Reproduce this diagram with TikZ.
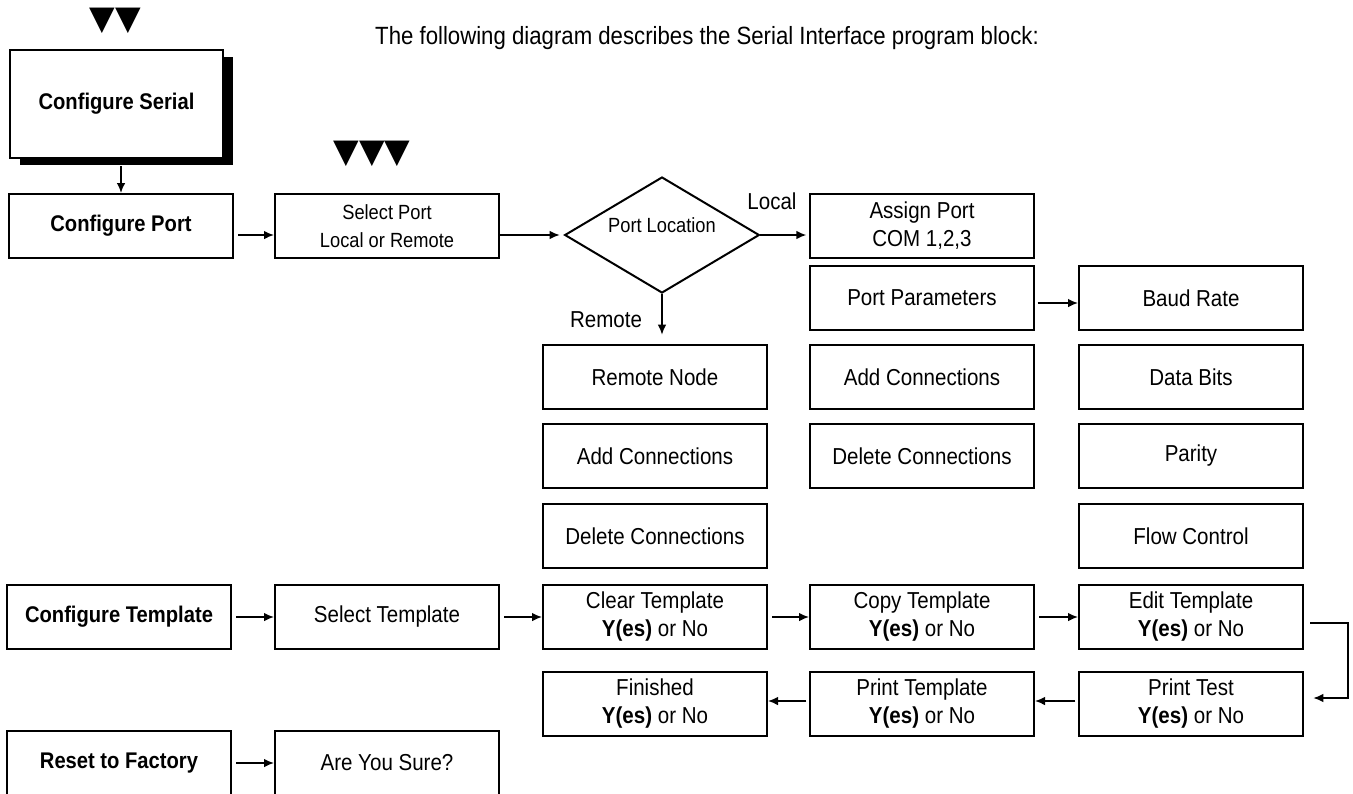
\documentclass[tikz,border=0pt]{standalone}
\usepackage{fontspec}
\setmainfont{Liberation Sans}[FakeStretch=0.89]
\newfontfamily\symfont{DejaVu Sans}
\usetikzlibrary{shapes.geometric,shadows,arrows.meta}

\begin{document}
\begin{tikzpicture}[x=0.75pt, y=-0.75pt,
    box/.style={rectangle, draw, line width=1.5pt, fill=white,
      minimum width=168pt, minimum height=48pt, inner sep=0pt,
      align=center, font=\fontsize{17.3}{21}\selectfont},
    smallbox/.style={box, font=\fontsize{15.4}{21}\selectfont},
    mainbox/.style={box, font=\fontsize{17}{21}\selectfont\bfseries},
    decision/.style={diamond, draw, line width=1.5pt, shape aspect=1.7,
      minimum width=146pt, minimum height=87pt, inner sep=0pt,
      font=\fontsize{15.4}{18}\selectfont},
    lab/.style={font=\fontsize{17.3}{20}\selectfont, inner sep=0pt},
    marks/.style={font=\symfont\fontsize{25}{25}\selectfont, inner sep=0pt},
    arrow/.style={-{Latex[length=7.5pt,width=6.5pt]}, line width=1.2pt}
  ]
  \path[use as bounding box, clip] (0,0) rectangle (1353,793);

  % heading and menu marks
  \node[lab, font=\fontsize{18.7}{20}\selectfont] (title) at (707,38)
  {The following diagram describes the Serial Interface program block:};
  \node[marks] (mk2) at (115.5,20.5) {▼▼};
  \node[marks] (mk3) at (372,154) {▼▼▼};

  % serial port branch
  \node[mainbox, minimum width=160pt, minimum height=81pt,
    drop shadow={shadow xshift=7.5pt, shadow yshift=-5.25pt,
      fill=black, opacity=1}] (cser) at (116.5,104) {Configure Serial};
  \node[mainbox] (cport)  at (121,226) {Configure Port};
  \node[smallbox] (sport) at (387,226) {Select Port\\Local or Remote};
  \node[decision] (ploc)  at (662,235) {\raisebox{15pt}{Port Location}};
  \node[box] (aport)  at (922,226) {Assign Port\\COM 1,2,3};
  \node[box] (pparam) at (922,298) {Port Parameters};
  \node[box] (addm)   at (922,377) {Add Connections};
  \node[box] (delm)   at (922,456) {Delete Connections};
  \node[box] (baud)   at (1191,298) {Baud Rate};
  \node[box] (dbits)  at (1191,377) {Data Bits};
  \node[box] (parity) at (1191,456) {Parity};
  \node[box] (flow)   at (1191,536) {Flow Control};
  \node[box] (rnode)  at (655,377) {Remote Node};
  \node[box] (addr)   at (655,456) {Add Connections};
  \node[box] (delr)   at (655,536) {Delete Connections};
  \node[lab] (local)  at (772,201) {Local};
  \node[lab] (remote) at (606,320) {Remote};

  % template branch
  \node[mainbox] (ctemp) at (119,617) {Configure Template};
  \node[box] (stemp) at (387,617) {Select Template};
  \node[box] (clear) at (655,617) {Clear Template\\\textbf{Y(es)} or No};
  \node[box] (copy)  at (922,617) {Copy Template\\\textbf{Y(es)} or No};
  \node[box] (edit)  at (1191,617) {Edit Template\\\textbf{Y(es)} or No};
  \node[box] (ptest) at (1191,704) {Print Test\\\textbf{Y(es)} or No};
  \node[box] (ptemp) at (922,704) {Print Template\\\textbf{Y(es)} or No};
  \node[box] (fin)   at (655,704) {Finished\\\textbf{Y(es)} or No};

  % reset branch
  \node[mainbox] (reset) at (119,763) {Reset to Factory};
  \node[box] (sure) at (387,763) {Are You Sure?};

  % connectors
  \draw[arrow] ([yshift=-5.25pt]cser.south -| cport.north) -- (cport.north);
  \draw[arrow, shorten <=3pt] (cport.east |- ploc.west) -- (sport.west |- ploc.west);
  \draw[arrow, shorten >=3pt] (sport.east |- ploc.west) -- (ploc.west);
  \draw[arrow, shorten >=2pt] (ploc.east) -- (aport.west |- ploc.east);
  \draw[arrow, shorten >=7pt] (ploc.south) -- (rnode.north -| ploc.south);
  \draw[arrow, shorten <=2pt] ([yshift=-3.75pt]pparam.east) -- ([yshift=-3.75pt]baud.west);
  \foreach \a/\b in {ctemp/stemp,stemp/clear,clear/copy,copy/edit,reset/sure}
  {\draw[arrow, shorten <=3pt] (\a.east) -- (\b.west);}
  \draw[arrow, shorten >=7pt] ([xshift=4.5pt,yshift=-4.5pt]edit.east)
    -- ++(28.5pt,0) |- ([yshift=4.5pt]ptest.east);
  \foreach \a/\b in {ptest/ptemp,ptemp/fin}
  {\draw[arrow, shorten <=2pt] ([yshift=2.25pt]\a.west) -- ([yshift=2.25pt]\b.east);}
\end{tikzpicture}
\end{document}
